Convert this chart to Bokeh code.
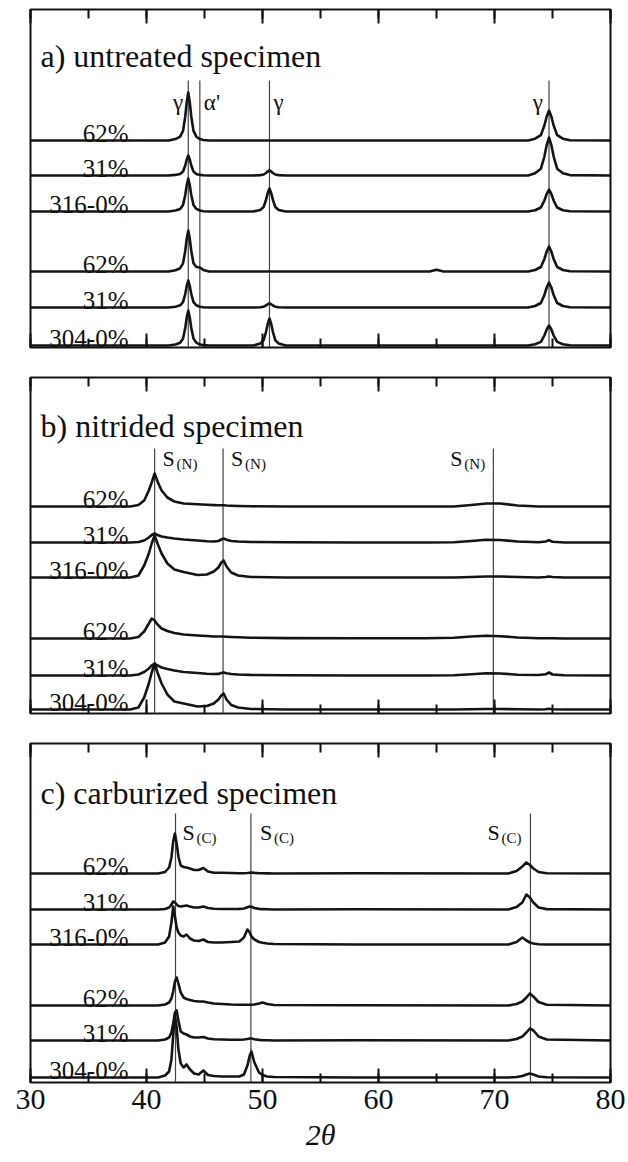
from bokeh.plotting import figure
from bokeh.layouts import column
from bokeh.models import LinearAxis, SingleIntervalTicker, Range1d, Label
from bokeh.embed import file_html
from bokeh.resources import INLINE

FONT = "Liberation Serif"

sample_labels = ["62%", "31%", "316-0%", "62%", "31%", "304-0%"]
titles = ["a) untreated specimen", "b) nitrided specimen", "c) carburized specimen"]

# ---------------- panel a: untreated ----------------
a_x = [30, 41.9, 42.5, 42.9, 43.15, 43.34, 43.47, 43.6, 43.73, 43.86, 44.05, 44.3, 44.6, 44.9, 45.4,
       49.2, 49.8, 50.1, 50.3, 50.45, 50.6, 50.75, 50.9, 51.1, 51.4, 52.0,
       64.4, 65.0, 65.6,
       72.9, 73.5, 74.0, 74.3, 74.5, 74.7, 74.9, 75.1, 75.4, 75.9, 76.5, 80]
a_316_62 = [0, 0, 1.4, 3.8, 9.6, 24, 38.4, 48, 38.4, 24, 9.6, 3.8, 1.4, 0.5, 0,
            0, 0, 0, 0, 0, 0, 0, 0, 0, 0, 0,
            0, 0, 0,
            0, 1.8, 5.4, 15, 24, 30, 24, 15, 5.4, 1.8, 0.3, 0]
a_316_31 = [0, 0, 0.6, 1.6, 4, 10, 16, 20, 16, 10, 4, 1.6, 0.6, 0.2, 0,
            0, 0.35, 1, 2.5, 4, 5, 4, 2.5, 1, 0.35, 0,
            0, 0, 0,
            0, 2.3, 6.8, 19, 30.4, 38, 30.4, 19, 6.8, 2.3, 0.4, 0]
a_316_0 = [0, 0, 1, 2.6, 6.6, 16.5, 26.4, 33, 26.4, 16.5, 6.6, 2.6, 1, 0.3, 0,
           0, 1.6, 4.6, 11.5, 18.4, 23, 18.4, 11.5, 4.6, 1.6, 0,
           0, 0, 0,
           0, 1.3, 4, 11, 17.6, 22, 17.6, 11, 4, 1.3, 0.2, 0]
a_304_62 = [0, 0, 1.2, 3.3, 8.2, 20.5, 32.8, 41, 32.8, 20.5, 8.2, 4.5, 4, 1.5, 0,
            0, 0, 0, 0, 0, 0, 0, 0, 0, 0, 0,
            0, 1.8, 0,
            0, 1.5, 4.5, 12.5, 20, 25, 20, 12.5, 4.5, 1.5, 0.25, 0]
a_304_31 = [0, 0, 0.8, 2.2, 5.4, 13.5, 21.6, 27, 21.6, 13.5, 5.4, 2.2, 0.8, 0.3, 0,
            0, 0.3, 0.8, 2, 3.2, 4, 3.2, 2, 0.8, 0.3, 0,
            0, 0, 0,
            0, 1.5, 4.5, 12.5, 20, 25, 20, 12.5, 4.5, 1.5, 0.25, 0]
a_304_0 = [0, 0, 1, 2.8, 7, 17.5, 28, 35, 28, 17.5, 7, 2.8, 1, 0.35, 0,
           0, 1.9, 5.4, 13.5, 21.6, 27, 21.6, 13.5, 5.4, 1.9, 0,
           0, 0, 0,
           0, 1.2, 3.6, 10, 16, 20, 16, 10, 3.6, 1.2, 0.2, 0]
a_phase_pos = [43.6, 44.6, 50.6, 74.7]
a_phase_txt = ["γ", "α'", "γ", "γ"]

# ---------------- panel b: nitrided ----------------
b_x = [30, 38.6, 39.3, 39.8, 40.2, 40.45, 40.7, 40.95, 41.3, 41.8, 42.4, 43.2, 44.4, 45.2, 45.8,
       46.2, 46.45, 46.65, 46.9, 47.3, 47.9, 49.0, 52, 58, 64, 66.5, 68, 69.3, 70.5, 72,
       73.8, 74.4, 74.7, 75.0, 76, 80]
b_316_62 = [0, 0, 1.5, 6, 16, 24, 33, 25, 16, 9, 5, 3, 2.2, 1.7, 1.4, 1.2, 1.2, 1.2, 1, 0.8,
            0.5, 0.2, 0, 0, 0, 0, 1.5, 3, 3, 1, 0, 0, 0, 0, 0, 0]
b_316_31 = [0, 0, 0.5, 2, 5, 7.5, 9, 7.5, 6, 5, 4, 3, 2, 1.2, 1, 1.5, 3, 4, 2.8, 1.5,
            1, 0.5, 0.2, 0, 0, 0.3, 1.5, 2.8, 2.5, 1, 0.3, 1, 2.2, 0.8, 0, 0]
b_316_0 = [0, 0, 2, 12, 24, 34, 42, 34, 24, 14, 8, 5.5, 2.5, 3, 6, 10, 15, 17, 11, 5,
           2, 0.5, 0, 0, 0, 0, 0.5, 1, 1, 0.5, 0, 0.5, 1, 0.5, 0, 0]
b_304_62 = [0, 0, 1.5, 7, 15, 20, 18, 14, 10, 7.5, 5.5, 4, 3, 2.5, 2, 2, 2, 2, 1.8, 1.5,
            1.2, 0.8, 0.4, 0.2, 0.2, 0.8, 2, 2.8, 2.3, 1, 0.3, 0.3, 0.3, 0.2, 0, 0]
b_304_31 = [0, 0, 1, 3.5, 7, 10, 12, 10, 8, 6.5, 5, 3.5, 2.5, 1.8, 1.5, 1.6, 2.5, 3, 2.2, 1.5,
            1, 0.6, 0.3, 0, 0, 0.3, 1.2, 2.3, 2, 0.8, 0.5, 1.2, 3, 1, 0.2, 0]
b_304_0 = [0, 0, 2, 12, 26, 37, 46, 37, 26, 15, 8, 6, 3, 3.5, 6, 10, 14, 16, 10, 4.5,
           2, 0.5, 0, 0, 0, 0, 0.3, 0.5, 0.5, 0.2, 0, 0.3, 0.8, 0.3, 0, 0]
b_phase_pos = [40.7, 46.6, 69.9]

# ---------------- panel c: carburized ----------------
c_x = [30, 41.0, 41.6, 41.95, 42.15, 42.3, 42.45, 42.6, 42.75, 42.95, 43.2, 43.45, 43.75, 44.1,
       44.5, 44.9, 45.3, 45.8, 46.5, 47.3, 48.0, 48.4, 48.7, 48.9, 49.05, 49.3, 49.7, 50.0,
       50.4, 51.0, 58, 71.2, 71.9, 72.4, 72.75, 73.05, 73.35, 73.8, 74.5, 80]
c_316_62 = [0, 0, 1.5, 6, 16, 32, 40, 30, 17, 8, 6.5, 6, 5, 3.5, 3.5, 5.5, 2, 0.8, 0.8, 0.5,
            0.3, 0.3, 0.5, 0.8, 1, 0.6, 0.3, 0.2, 0.1, 0, 0.3, 0, 2.5, 7, 11, 8.5, 5, 1.5, 0.3, 0]
c_316_31 = [0, 0, 0.5, 2, 5, 8, 7, 5, 3.5, 3, 3.5, 4, 3, 2, 2, 3, 1.5, 0.8, 0.5, 0.5,
            0.6, 1, 2.2, 3, 2.8, 1.5, 0.6, 0.4, 0.2, 0, 0.3, 0, 2.5, 7, 15, 12, 7, 2, 0.4, 0]
c_316_0 = [0, 0, 2, 8, 22, 38, 28, 17, 12, 9, 8, 10, 6, 4, 3.5, 5, 2.5, 2, 2, 2.5,
           3, 7, 15, 12, 8, 5, 2.5, 1.8, 1, 0.5, 0, 0, 2.5, 7, 4, 2, 1, 0.3, 0, 0]
c_304_62 = [0, 0, 1, 3, 7, 14, 24, 28, 22, 13, 8, 6.5, 5.5, 4.5, 4, 4, 3, 2, 1.5, 1,
            0.8, 0.8, 0.8, 0.8, 0.8, 1, 2, 3, 1.5, 0.5, 0.3, 0, 1.5, 4, 8, 12, 9, 3.5, 0.8, 0]
c_304_31 = [0, 0, 1, 3, 8, 17, 28, 30, 20, 9, 7, 6, 4, 3, 3, 3.5, 2, 1.2, 1, 0.8,
            0.8, 1, 1.5, 2, 2, 1.2, 0.6, 0.3, 0.2, 0, 0.3, 0, 1.5, 4, 8, 12, 10, 4, 1, 0]
c_304_0 = [0, 0, 2, 6, 18, 42, 62, 50, 28, 14, 10, 13, 8, 4, 3, 7, 2.5, 1.5, 1, 1,
           1, 3, 12, 22, 26, 15, 5, 2.5, 1, 0.5, 0, 0, 0.5, 1.5, 3, 4, 3, 1, 0.2, 0]
c_phase_pos = [42.5, 49.0, 73.1]

TRACE_COLOR = "#141414"
LINE_COLOR = "#444444"
TXT = "#111111"


def make_panel(H, top, bottom, xs, traces, offsets, title, title_y, show_x):
    p = figure(width=628, height=top + H + bottom,
               x_range=Range1d(30, 80), y_range=Range1d(0, H),
               x_axis_type=None, y_axis_type=None,
               output_backend="svg", toolbar_location=None,
               min_border_left=30, min_border_right=18,
               min_border_top=top, min_border_bottom=bottom)
    p.grid.visible = False
    p.outline_line_color = "#111111"
    p.outline_line_width = 2
    p.background_fill_color = "white"
    p.border_fill_color = "white"

    for loc in ("above", "below"):
        ax = LinearAxis(ticker=SingleIntervalTicker(interval=10, num_minor_ticks=2))
        ax.axis_line_color = None
        ax.major_tick_in = 14
        ax.major_tick_out = 0
        ax.minor_tick_in = 9
        ax.minor_tick_out = 0
        ax.major_tick_line_width = 2
        ax.minor_tick_line_width = 2
        ax.major_tick_line_color = "#111111"
        ax.minor_tick_line_color = "#111111"
        if loc == "below" and show_x:
            ax.major_label_text_font = FONT
            ax.major_label_text_font_size = "30px"
            ax.major_label_text_color = TXT
            ax.major_label_standoff = 7
            ax.axis_label = "2θ"
            ax.axis_label_text_font = FONT
            ax.axis_label_text_font_size = "30px"
            ax.axis_label_text_font_style = "italic"
            ax.axis_label_text_color = TXT
            ax.axis_label_standoff = 6
        else:
            ax.major_label_text_color = None
            ax.major_label_text_font_size = "0px"
            ax.major_label_standoff = 0
        p.add_layout(ax, loc)

    for i, tr in enumerate(traces):
        ys = [offsets[i] + v for v in tr]
        p.line(xs, ys, line_color=TRACE_COLOR, line_width=2.6, line_join="round")
        p.add_layout(Label(x=30, y=offsets[i] + 7, x_offset=98, text=sample_labels[i],
                           text_align="right", text_baseline="alphabetic",
                           text_font=FONT, text_font_size="25px", text_color=TXT))

    p.add_layout(Label(x=30, y=title_y, x_offset=10, text=title, text_baseline="alphabetic",
                       text_font=FONT, text_font_size="32px", text_color=TXT))
    return p


# panel a
pa = make_panel(338, 9, 15, a_x, [a_316_62, a_316_31, a_316_0, a_304_62, a_304_31, a_304_0],
                [207, 172, 136, 76, 40, 2], titles[0], 292, False)
pa.segment(x0=a_phase_pos, y0=[0] * 4, x1=a_phase_pos, y1=[267] * 4,
           line_color=LINE_COLOR, line_width=1.2, level="underlay")
for pos, txt, dx, al in zip(a_phase_pos, a_phase_txt, [-5, 4, 4, -6],
                            ["right", "left", "left", "right"]):
    pa.add_layout(Label(x=pos, y=245, x_offset=dx, text=txt, text_align=al,
                        text_baseline="alphabetic", text_font=FONT,
                        text_font_size="23px", text_color=TXT))

# panel b
pb = make_panel(336, 15, 15, b_x, [b_316_62, b_316_31, b_316_0, b_304_62, b_304_31, b_304_0],
                [207, 171, 136, 75, 38, 4], titles[1], 288, False)
pb.segment(x0=b_phase_pos, y0=[0] * 3, x1=b_phase_pos, y1=[265] * 3,
           line_color=LINE_COLOR, line_width=1.2, level="underlay")
for pos, dx in zip(b_phase_pos, [8, 8, -43]):
    pb.add_layout(Label(x=pos, y=255, x_offset=dx, text="S", text_baseline="alphabetic",
                        text_font=FONT, text_font_size="22px", text_color=TXT))
    pb.add_layout(Label(x=pos, y=250, x_offset=dx + 14, text="(N)", text_baseline="alphabetic",
                        text_font=FONT, text_font_size="15px", text_color=TXT))

# panel c
pc = make_panel(339, 15, 80, c_x, [c_316_62, c_316_31, c_316_0, c_304_62, c_304_31, c_304_0],
                [209, 173, 138, 77, 42, 5], titles[2], 290, True)
pc.segment(x0=c_phase_pos, y0=[0] * 3, x1=c_phase_pos, y1=[269] * 3,
           line_color=LINE_COLOR, line_width=1.2, level="underlay")
for pos, dx in zip(c_phase_pos, [7, 9, -43]):
    pc.add_layout(Label(x=pos, y=250, x_offset=dx, text="S", text_baseline="alphabetic",
                        text_font=FONT, text_font_size="22px", text_color=TXT))
    pc.add_layout(Label(x=pos, y=245, x_offset=dx + 14, text="(C)", text_baseline="alphabetic",
                        text_font=FONT, text_font_size="15px", text_color=TXT))

layout = column(pa, pb, pc, spacing=0)
open("out.html", "w").write(file_html(layout, INLINE))
